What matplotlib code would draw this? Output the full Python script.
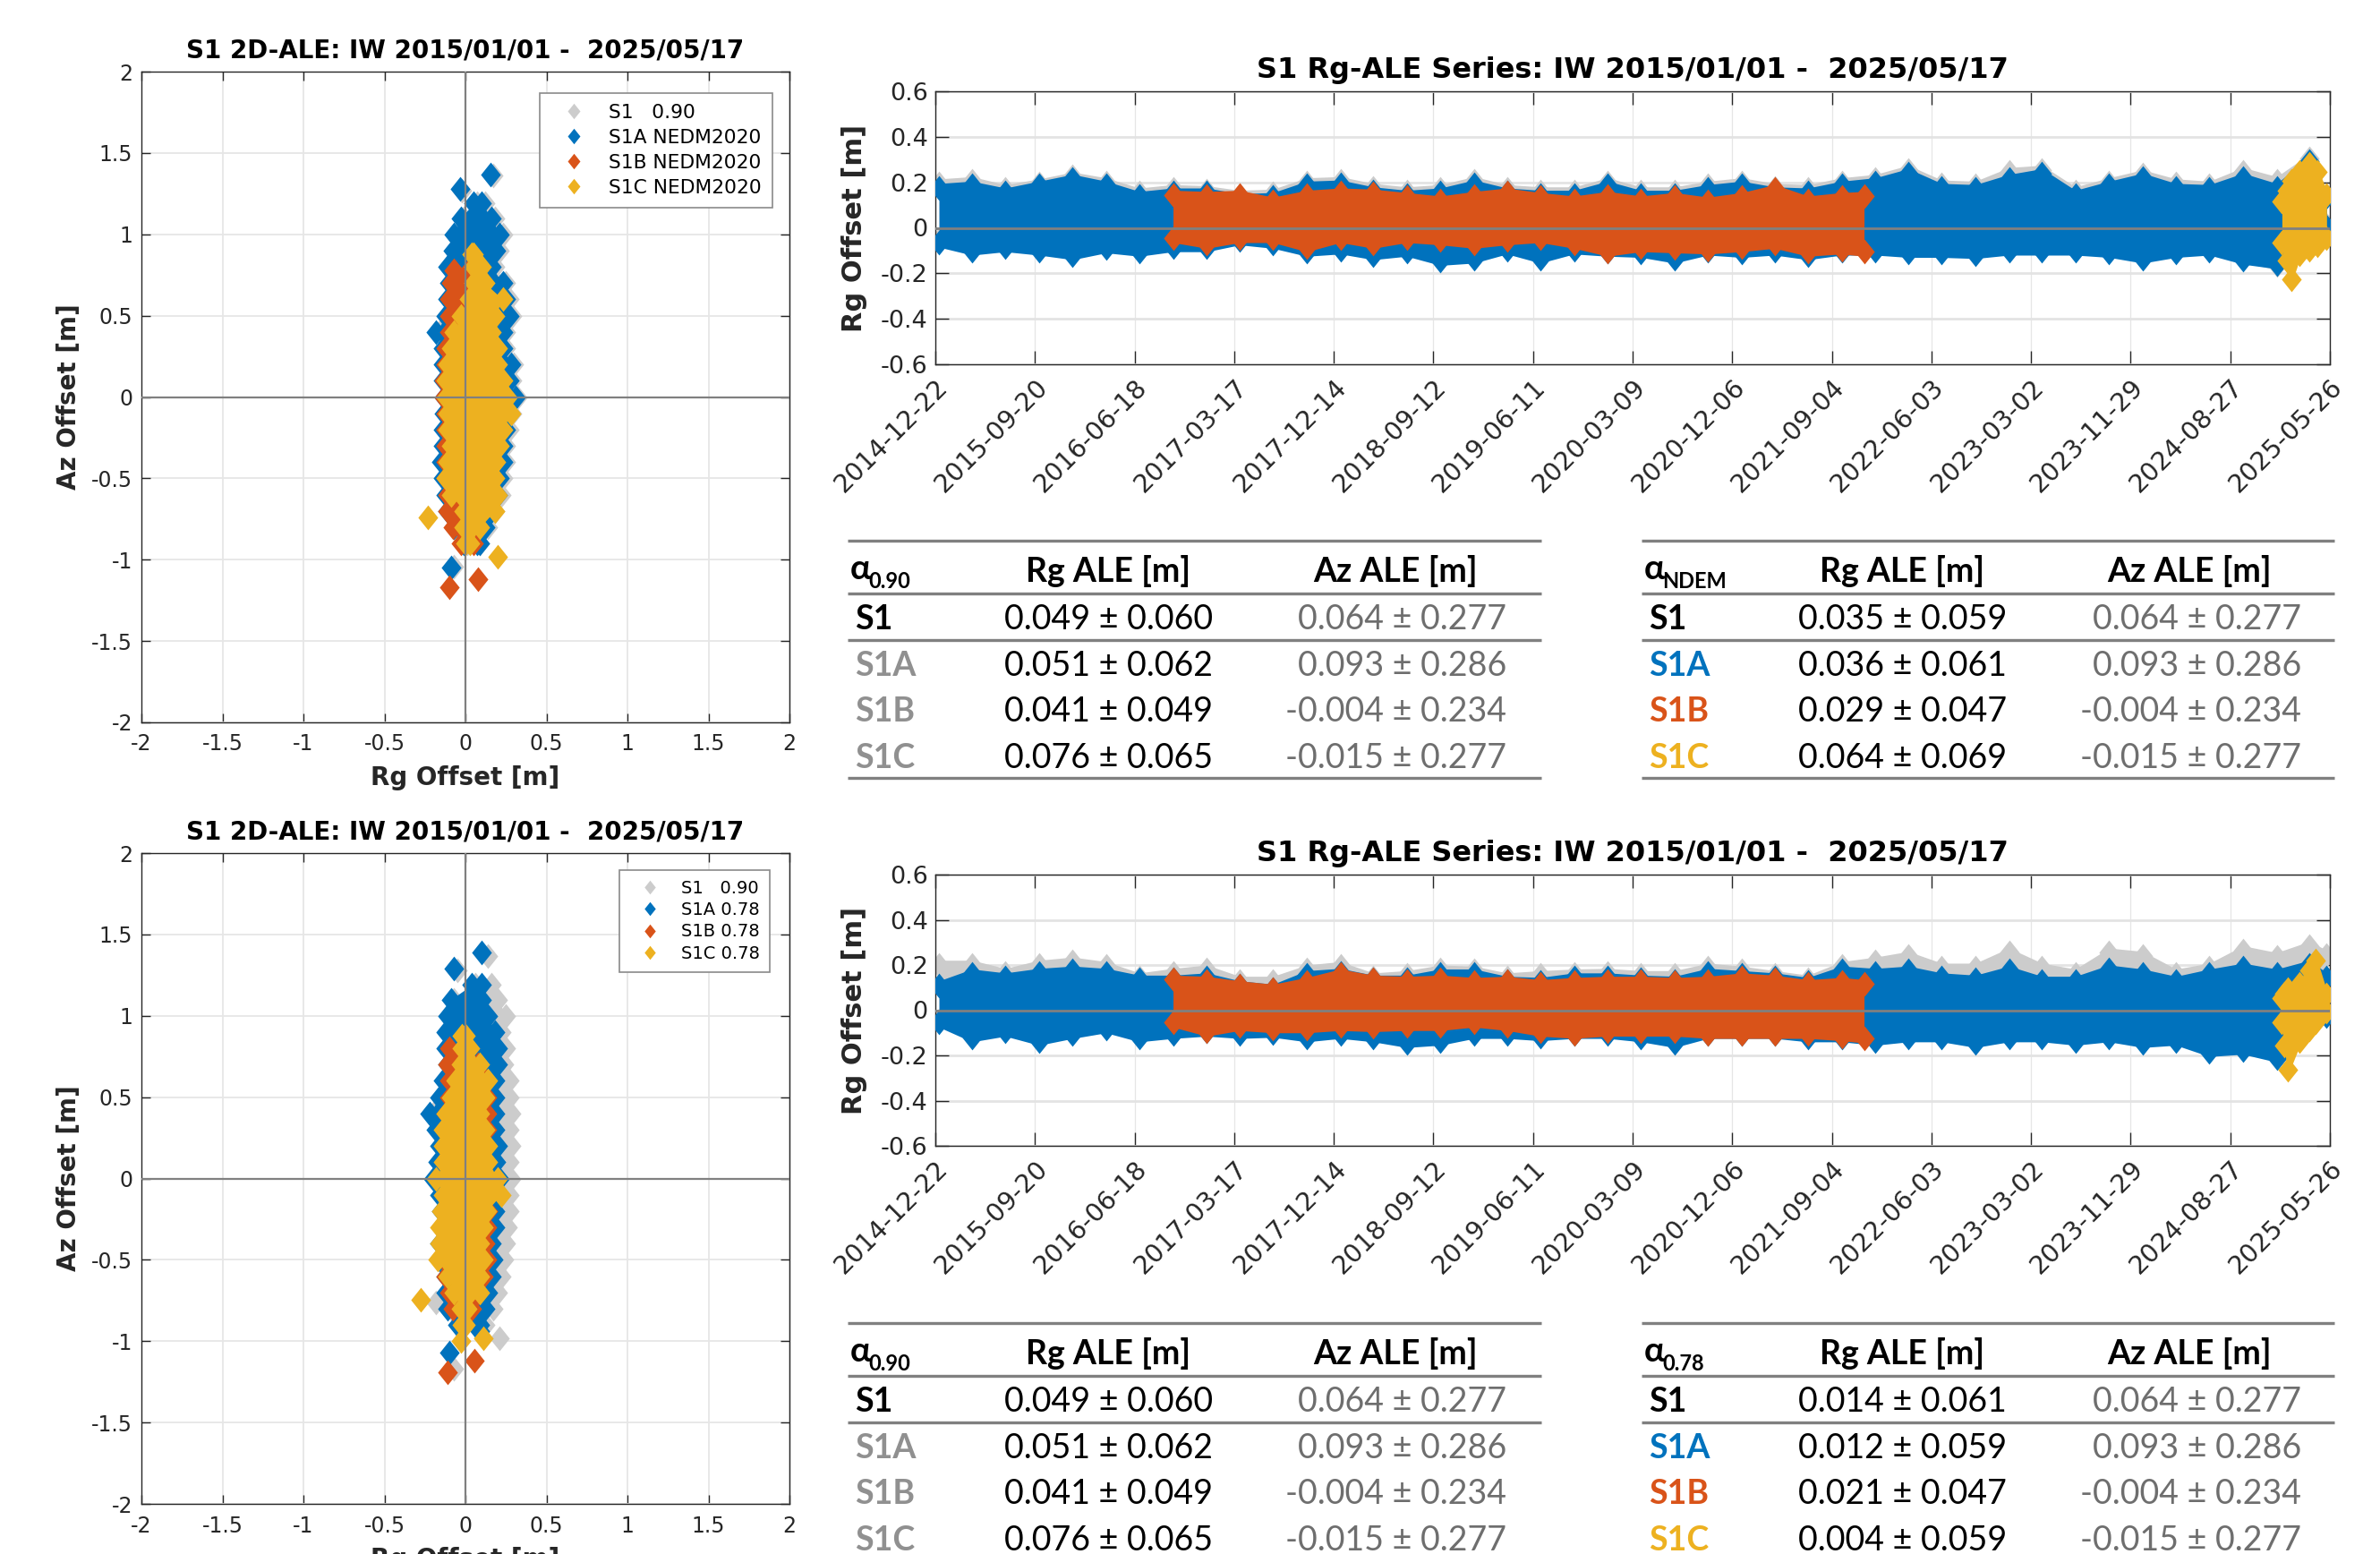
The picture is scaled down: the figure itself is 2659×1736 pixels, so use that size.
import numpy as np
import matplotlib
matplotlib.use("Agg")
import matplotlib.pyplot as plt
import matplotlib.dates as mdates
import matplotlib.transforms as mtransforms
from matplotlib.lines import Line2D

plt.rcParams['font.family'] = ['DejaVu Sans']

C_S1, C_A, C_B, C_C = '#cccccc', '#0072bd', '#d95319', '#edb120'
TXT = '#262626'

# ---------------- 2D-ALE scatter clouds (row y, left/right-most marker centres) -------------
ROWS_AB = [1.19, 1.1, 1.0, 0.9, 0.8, 0.7, 0.6, 0.5, 0.4, 0.3, 0.2, 0.1, 0.0,
           -0.1, -0.2, -0.3, -0.4, -0.5, -0.6, -0.7, -0.8, -0.9]
ROWS_B = [0.78, 0.7, 0.6, 0.5, 0.4, 0.3, 0.2, 0.1, 0.0, -0.1, -0.2, -0.3, -0.4,
          -0.5, -0.6, -0.7, -0.8, -0.9]
ROWS_B2 = [0.8, 0.7, 0.6, 0.5, 0.4, 0.3, 0.2, 0.1, 0.0, -0.1, -0.2, -0.3, -0.4,
           -0.5, -0.6, -0.7, -0.8]
ROWS_C = [0.88, 0.8, 0.7, 0.6, 0.5, 0.4, 0.3, 0.2, 0.1, 0.0, -0.1, -0.2, -0.3,
          -0.4, -0.5, -0.6, -0.7, -0.8, -0.9]

# top panel (NEDM2020)
t_gray_l = [0.07, -0.01, -0.05, -0.06, -0.09, -0.08, -0.09, -0.10, -0.16, -0.12, -0.12,
            -0.12, -0.11, -0.11, -0.12, -0.12, -0.13, -0.12, -0.10, -0.09, -0.05, 0.01]
t_gray_r = [0.12, 0.18, 0.23, 0.21, 0.18, 0.25, 0.27, 0.29, 0.25, 0.25, 0.30,
            0.29, 0.32, 0.29, 0.27, 0.25, 0.25, 0.23, 0.22, 0.18, 0.14, 0.09]
t_gray_ox = [0.17, -0.02, -0.07]
t_gray_oy = [1.36, 1.27, -1.04]
t_blue_l = [0.05, -0.03, -0.07, -0.08, -0.11, -0.10, -0.11, -0.12, -0.18, -0.14, -0.14,
            -0.14, -0.13, -0.13, -0.14, -0.14, -0.15, -0.14, -0.12, -0.11, -0.07, -0.01]
t_blue_r = [0.10, 0.16, 0.21, 0.19, 0.16, 0.23, 0.25, 0.27, 0.23, 0.23, 0.28,
            0.27, 0.31, 0.27, 0.25, 0.23, 0.23, 0.21, 0.20, 0.16, 0.12, 0.07]
t_blue_ox = [0.155, -0.035, -0.09, 0.09]
t_blue_oy = [1.37, 1.28, -1.05, -0.90]
t_or_l = [-0.07, -0.09, -0.10, -0.10, -0.10, -0.12, -0.12, -0.13, -0.13, -0.12, -0.12,
          -0.12, -0.12, -0.12, -0.11, -0.11, -0.08, -0.03]
t_or_r = [0.02, 0.10, 0.12, 0.12, 0.10, 0.12, 0.12, 0.15, 0.15, 0.15, 0.15, 0.14,
          0.14, 0.13, 0.12, 0.10, 0.05, 0.05]
t_or_ox = [-0.10, 0.08]
t_or_oy = [-1.17, -1.12]
t_ye_l = [0.04, 0.05, 0.05, 0.02, -0.03, -0.07, -0.09, -0.11, -0.12, -0.12, -0.11,
          -0.11, -0.09, -0.11, -0.12, -0.09, -0.01, -0.01, 0.00]
t_ye_r = [0.05, 0.10, 0.12, 0.23, 0.18, 0.16, 0.20, 0.20, 0.23, 0.26, 0.28, 0.23,
          0.21, 0.19, 0.18, 0.20, 0.18, 0.09, 0.03]
t_ye_ox = [-0.23, 0.20]
t_ye_oy = [-0.74, -0.98]

# bottom panel (0.78)
b_gray_l = [0.06, -0.07, -0.09, -0.10, -0.10, -0.10, -0.12, -0.15, -0.20, -0.16, -0.14,
            -0.15, -0.18, -0.14, -0.13, -0.12, -0.14, -0.14, -0.10, -0.10, -0.09, -0.03]
b_gray_r = [0.16, 0.20, 0.25, 0.22, 0.25, 0.24, 0.27, 0.27, 0.28, 0.27, 0.28,
            0.27, 0.28, 0.27, 0.27, 0.26, 0.25, 0.24, 0.22, 0.20, 0.17, 0.12]
b_gray_ox = [0.14, -0.05, 0.21, -0.18, -0.07]
b_gray_oy = [1.37, 1.28, -0.98, -0.76, -1.17]
b_blue_l = [0.04, -0.09, -0.11, -0.12, -0.12, -0.11, -0.14, -0.16, -0.22, -0.18, -0.16,
            -0.17, -0.20, -0.16, -0.15, -0.14, -0.16, -0.16, -0.12, -0.12, -0.11, -0.05]
b_blue_r = [0.10, 0.10, 0.14, 0.18, 0.20, 0.20, 0.18, 0.18, 0.18, 0.18, 0.20,
            0.19, 0.21, 0.18, 0.18, 0.18, 0.16, 0.17, 0.16, 0.14, 0.12, 0.09]
b_blue_ox = [0.10, -0.074, -0.10, 0.09]
b_blue_oy = [1.39, 1.29, -1.07, -0.94]
b_or_l = [-0.10, -0.11, -0.10, -0.10, -0.12, -0.12, -0.13, -0.13, -0.13, -0.13, -0.13,
          -0.13, -0.13, -0.13, -0.12, -0.10, -0.08]
b_or_r = [0.00, 0.08, 0.12, 0.13, 0.13, 0.13, 0.13, 0.13, 0.13, 0.12, 0.14, 0.13,
          0.12, 0.13, 0.11, 0.08, 0.04]
b_or_ox = [-0.11, 0.055]
b_or_oy = [-1.19, -1.12]
b_ye_l = [-0.02, -0.02, -0.03, -0.06, -0.09, -0.12, -0.14, -0.14, -0.14, -0.18, -0.14,
          -0.15, -0.16, -0.16, -0.17, -0.11, -0.07, -0.03, -0.02]
b_ye_r = [0.00, 0.03, 0.09, 0.14, 0.12, 0.09, 0.12, 0.14, 0.14, 0.20, 0.22, 0.13,
          0.11, 0.09, 0.11, 0.09, 0.09, 0.01, 0.00]
b_ye_ox = [-0.276, 0.11, -0.03]
b_ye_oy = [-0.746, -0.98, -1.00]

# ---------------- Rg-ALE series envelopes (outer extent of markers) ----------------------
Q_DATES = ['2015-01-01', '2015-04-01', '2015-07-01', '2015-10-01',
           '2016-01-01', '2016-04-01', '2016-07-01', '2016-10-01',
           '2017-01-01', '2017-04-01', '2017-07-01', '2017-10-01',
           '2018-01-01', '2018-04-01', '2018-07-01', '2018-10-01',
           '2019-01-01', '2019-04-01', '2019-07-01', '2019-10-01',
           '2020-01-01', '2020-04-01', '2020-07-01', '2020-10-01',
           '2021-01-01', '2021-04-01', '2021-07-01', '2021-10-01',
           '2022-01-01', '2022-04-01', '2022-07-01', '2022-10-01',
           '2023-01-01', '2023-04-01', '2023-07-01', '2023-10-01',
           '2024-01-01', '2024-04-01', '2024-07-01', '2024-10-01',
           '2025-01-01', '2025-04-01', '2025-05-17']
B_DATES = ['2016-10-01',
           '2017-01-01', '2017-04-01', '2017-07-01', '2017-10-01',
           '2018-01-01', '2018-04-01', '2018-07-01', '2018-10-01',
           '2019-01-01', '2019-04-01', '2019-07-01', '2019-10-01',
           '2020-01-01', '2020-04-01', '2020-07-01', '2020-10-01',
           '2021-01-01', '2021-04-01', '2021-07-01', '2021-10-01', '2021-12-01']
C_DATES_T = ['2025-01-15', '2025-01-28', '2025-02-10', '2025-03-05', '2025-04-01',
             '2025-04-22', '2025-05-17']
C_DATES_B = ['2025-01-15', '2025-01-22', '2025-02-01', '2025-03-05', '2025-04-01',
             '2025-04-18', '2025-05-17']

ts_t_gray_hi = [0.25, 0.26, 0.225, 0.25, 0.28, 0.255, 0.21, 0.225, 0.22, 0.20, 0.205, 0.255,
                0.26, 0.23, 0.215, 0.225, 0.26, 0.225, 0.215, 0.215, 0.255, 0.215, 0.215, 0.24,
                0.255, 0.23, 0.225, 0.255, 0.27, 0.31, 0.245, 0.24, 0.30, 0.31, 0.215, 0.255,
                0.29, 0.25, 0.24, 0.30, 0.26, 0.36, 0.20]
ts_t_gray_lo = [-0.11, -0.145, -0.13, -0.145, -0.165, -0.135, -0.15, -0.13, -0.13, -0.10,
                -0.115, -0.15, -0.14, -0.165, -0.15, -0.19, -0.18, -0.14, -0.18, -0.14,
                -0.15, -0.155, -0.18, -0.145, -0.155, -0.145, -0.165, -0.145, -0.145, -0.155,
                -0.155, -0.16, -0.145, -0.145, -0.145, -0.155, -0.18, -0.155, -0.145, -0.185,
                -0.22, -0.115, -0.04]
ts_t_blue_hi = [0.23, 0.24, 0.21, 0.24, 0.27, 0.24, 0.195, 0.21, 0.21, 0.185, 0.19, 0.24,
                0.245, 0.215, 0.20, 0.21, 0.245, 0.21, 0.20, 0.20, 0.24, 0.20, 0.20, 0.225,
                0.24, 0.215, 0.21, 0.24, 0.255, 0.295, 0.23, 0.225, 0.27, 0.295, 0.20, 0.24,
                0.275, 0.23, 0.225, 0.275, 0.23, 0.35, 0.19]
ts_t_blue_lo = [-0.12, -0.155, -0.14, -0.155, -0.175, -0.145, -0.16, -0.14, -0.14, -0.11,
                -0.125, -0.16, -0.15, -0.175, -0.16, -0.20, -0.19, -0.15, -0.19, -0.15,
                -0.16, -0.165, -0.19, -0.155, -0.165, -0.155, -0.175, -0.155, -0.155, -0.165,
                -0.165, -0.17, -0.155, -0.155, -0.155, -0.165, -0.19, -0.165, -0.155, -0.195,
                -0.215, -0.125, -0.05]
ts_t_or_hi = [0.20, 0.195, 0.20, 0.17, 0.20, 0.21, 0.205, 0.19, 0.175, 0.195, 0.21, 0.19,
              0.175, 0.195, 0.175, 0.19, 0.17, 0.19, 0.225, 0.175, 0.19, 0.195]
ts_t_or_lo = [-0.10, -0.125, -0.10, -0.10, -0.14, -0.10, -0.125, -0.10, -0.11, -0.125, -0.11,
              -0.10, -0.125, -0.16, -0.14, -0.145, -0.15, -0.14, -0.125, -0.16, -0.15, -0.16]
ts_t_ye_hi = [0.17, 0.22, 0.26, 0.30, 0.335, 0.30, 0.20]
ts_t_ye_lo = [-0.12, -0.20, -0.28, -0.17, -0.15, -0.13, -0.10]

ts_b_gray_hi = [0.256, 0.256, 0.22, 0.256, 0.27, 0.25, 0.20, 0.22, 0.235, 0.185, 0.185, 0.235,
                0.25, 0.20, 0.21, 0.235, 0.23, 0.20, 0.21, 0.217, 0.22, 0.21, 0.21, 0.243,
                0.23, 0.21, 0.19, 0.25, 0.27, 0.295, 0.243, 0.243, 0.31, 0.243, 0.217, 0.31,
                0.295, 0.217, 0.243, 0.32, 0.29, 0.34, 0.30]
ts_b_gray_lo = [-0.10, -0.165, -0.14, -0.18, -0.15, -0.125, -0.165, -0.15, -0.14, -0.15,
                -0.145, -0.165, -0.15, -0.165, -0.19, -0.18, -0.15, -0.15, -0.16, -0.15,
                -0.15, -0.165, -0.19, -0.15, -0.15, -0.15, -0.165, -0.165, -0.18, -0.165,
                -0.165, -0.19, -0.165, -0.165, -0.18, -0.165, -0.19, -0.18, -0.23, -0.22,
                -0.255, -0.09, -0.07]
ts_b_blue_hi = [0.165, 0.217, 0.20, 0.22, 0.23, 0.22, 0.19, 0.19, 0.20, 0.165, 0.15, 0.21,
                0.22, 0.19, 0.19, 0.217, 0.217, 0.185, 0.18, 0.20, 0.20, 0.19, 0.185, 0.22,
                0.21, 0.20, 0.18, 0.23, 0.22, 0.23, 0.20, 0.19, 0.23, 0.185, 0.185, 0.235,
                0.217, 0.185, 0.217, 0.243, 0.217, 0.256, 0.20]
ts_b_blue_lo = [-0.11, -0.175, -0.15, -0.19, -0.16, -0.135, -0.175, -0.16, -0.15, -0.16,
                -0.155, -0.175, -0.16, -0.175, -0.20, -0.19, -0.16, -0.16, -0.17, -0.16,
                -0.16, -0.175, -0.20, -0.16, -0.16, -0.16, -0.175, -0.175, -0.19, -0.175,
                -0.175, -0.20, -0.175, -0.175, -0.19, -0.175, -0.20, -0.19, -0.24, -0.23,
                -0.265, -0.10, -0.08]
ts_b_or_hi = [0.19, 0.185, 0.165, 0.15, 0.18, 0.217, 0.19, 0.185, 0.19, 0.18, 0.185, 0.17,
              0.18, 0.185, 0.185, 0.18, 0.185, 0.20, 0.19, 0.17, 0.18, 0.17]
ts_b_or_lo = [-0.11, -0.15, -0.125, -0.135, -0.135, -0.125, -0.13, -0.125, -0.125, -0.11,
              -0.125, -0.15, -0.16, -0.15, -0.15, -0.15, -0.16, -0.16, -0.16, -0.16, -0.17, -0.18]
ts_b_ye_hi = [0.11, 0.13, 0.15, 0.17, 0.23, 0.275, 0.125]
ts_b_ye_lo = [-0.11, -0.21, -0.32, -0.19, -0.14, -0.11, -0.06]

TS_TICKS = ['2014-12-22', '2015-09-20', '2016-06-18', '2017-03-17', '2017-12-14',
            '2018-09-12', '2019-06-11', '2020-03-09', '2020-12-06', '2021-09-04',
            '2022-06-03', '2023-03-02', '2023-11-29', '2024-08-27', '2025-05-26']

# ---------------- tables --------------------------------------------------------------------
SATS = ['S1', 'S1A', 'S1B', 'S1C']
az_m = [0.064, 0.093, -0.004, -0.015]
az_s = [0.277, 0.286, 0.234, 0.277]
rg090_m = [0.049, 0.051, 0.041, 0.076]
rg090_s = [0.060, 0.062, 0.049, 0.065]
rgndem_m = [0.035, 0.036, 0.029, 0.064]
rgndem_s = [0.059, 0.061, 0.047, 0.069]
rg078_m = [0.014, 0.012, 0.021, 0.004]
rg078_s = [0.061, 0.059, 0.047, 0.059]

TITLE_2D = 'S1 2D-ALE: IW 2015/01/01 -  2025/05/17'
TITLE_TS = 'S1 Rg-ALE Series: IW 2015/01/01 -  2025/05/17'
LEG_TOP = ['S1   0.90', 'S1A NEDM2020', 'S1B NEDM2020', 'S1C NEDM2020']
LEG_BOT = ['S1   0.90', 'S1A 0.78', 'S1B 0.78', 'S1C 0.78']

# ---------------- figure --------------------------------------------------------------------
W, H, DPI = 2659, 1736, 100
fig = plt.figure(figsize=(W / DPI, H / DPI), dpi=DPI)
fig.patch.set_facecolor('white')

DIAMOND = [(0, 1), (0.8, 0), (0, -1), (-0.8, 0), (0, 1)]
MS = 20
TS_HALF = 0.055   # marker half height (Rg units) in the series axes
TS_FILL = 0.035   # inset of the solid band from the outer envelope


def px_axes(l, t, r, b):
    return fig.add_axes([l / W, 1 - b / H, (r - l) / W, (b - t) / H])


def cloud(ax, rows, left, right, ox, oy, color, z):
    ax.fill_betweenx(rows, left, right, color=color, lw=0, zorder=z)
    for xs, ys in ((left, rows), (right, rows), (ox, oy)):
        ax.plot(xs, ys, ls='none', marker=DIAMOND, ms=MS, color=color, mec='none', zorder=z)


def setup_scatter(ax, leg_labels, leg_fs, anchor, lspace):
    ax.set_xlim(-2, 2)
    ax.set_ylim(-2, 2)
    ticks = [-2, -1.5, -1, -0.5, 0, 0.5, 1, 1.5, 2]
    lbls = ['-2', '-1.5', '-1', '-0.5', '0', '0.5', '1', '1.5', '2']
    ax.set_xticks(ticks)
    ax.set_xticklabels(lbls)
    ax.set_yticks(ticks)
    ax.set_yticklabels(lbls)
    ax.grid(True, color='#e6e6e6', lw=1.3)
    ax.set_axisbelow(True)
    ax.tick_params(direction='in', length=7, width=1, top=True, right=True,
                   labelsize=17, colors=TXT)
    ax.tick_params(axis='x', pad=9)
    ax.tick_params(axis='y', pad=7)
    for s in ax.spines.values():
        s.set_color(TXT)
        s.set_linewidth(1.0)
    ax.axhline(0, color='#808080', lw=1.6, zorder=10)
    ax.axvline(0, color='#808080', lw=1.6, zorder=10)
    ax.set_title(TITLE_2D, fontsize=20, fontweight='bold', pad=11)
    ax.set_xlabel('Rg Offset [m]', fontsize=20, fontweight='bold', color=TXT, labelpad=8)
    ax.set_ylabel('Az Offset [m]', fontsize=20, fontweight='bold', color=TXT, labelpad=8)
    handles = [Line2D([], [], ls='none', marker=DIAMOND, ms=leg_fs * 0.8, color=c, mec='none')
               for c in (C_S1, C_A, C_B, C_C)]
    leg = ax.legend(handles, leg_labels, loc='upper right', bbox_to_anchor=anchor,
                    fontsize=leg_fs, frameon=True, fancybox=False, edgecolor='#8a8a8a',
                    framealpha=1, borderaxespad=0, handlelength=2.4, handletextpad=0.6,
                    labelspacing=lspace, borderpad=0.55)
    leg.get_frame().set_linewidth(1.2)
    leg.set_zorder(20)


def dn(lst):
    return mdates.date2num(np.array(lst, dtype='datetime64[D]'))


def band(ax, dates, lo, hi, color, z):
    x = dn(dates)
    lo = np.array(lo)
    hi = np.array(hi)
    ax.fill_between(x, lo + TS_FILL, hi - TS_FILL, color=color, lw=0, zorder=z)
    for ys in (lo + TS_HALF, hi - TS_HALF):
        ax.plot(x, ys, ls='none', marker=DIAMOND, ms=MS, color=color, mec='none', zorder=z)


def setup_ts(ax):
    ax.set_xlim(dn(['2014-12-22'])[0], dn(['2025-05-26'])[0])
    ax.set_ylim(-0.6, 0.6)
    ax.set_yticks([-0.6, -0.4, -0.2, 0, 0.2, 0.4, 0.6])
    ax.set_yticklabels(['-0.6', '-0.4', '-0.2', '0', '0.2', '0.4', '0.6'])
    ax.set_xticks(dn(TS_TICKS))
    ax.set_xticklabels(TS_TICKS, rotation=45, ha='right', va='top', rotation_mode='anchor')
    off = mtransforms.ScaledTranslation(19 / DPI, -5 / DPI, fig.dpi_scale_trans)
    for lab in ax.get_xticklabels():
        lab.set_transform(lab.get_transform() + off)
    ax.grid(True, axis='x', color='#e6e6e6', lw=0.9)
    ax.grid(True, axis='y', color='#e3e3e3', lw=2.0)
    ax.set_axisbelow(True)
    ax.tick_params(direction='in', length=11, width=1, top=True, right=True, colors=TXT)
    ax.tick_params(axis='x', pad=8, labelsize=20.5)
    ax.tick_params(axis='y', pad=6, labelsize=19.5)
    for s in ax.spines.values():
        s.set_color(TXT)
        s.set_linewidth(1.0)
    ax.axhline(0, color='#808080', lw=2.0, zorder=10)
    ax.set_title(TITLE_TS, fontsize=23, fontweight='bold', pad=11)
    ax.set_ylabel('Rg Offset [m]', fontsize=22, fontweight='bold', color=TXT, labelpad=11)


# table overlay (pixel coordinates)
tax = fig.add_axes([0, 0, 1, 1], zorder=-5)
tax.set_xlim(0, W)
tax.set_ylim(H, 0)
tax.axis('off')
tax.patch.set_visible(False)

TFAM = ['Lato', 'DejaVu Sans']
GRAY_LAB = '#909090'
GRAY_VAL = '#6e6e6e'


def table(x0, x1, dy, rg_head, az_head, rg_right, az_right, sub, lab_cols, rg_m, rg_s):
    for y in (604, 663, 715, 869):
        tax.plot([x0, x1], [y + dy, y + dy], color='#808080', lw=2.4,
                 solid_capstyle='butt', clip_on=False)
    tax.text(x0 + 3, 647 + dy, 'α', fontsize=28, fontweight='bold', family=TFAM,
             va='baseline', ha='left', color='black')
    tax.text(x0 + 23, 657 + dy, sub, fontsize=17, fontweight='bold', family=TFAM,
             va='baseline', ha='left', color='black')
    tax.text(rg_head, 650 + dy, 'Rg ALE [m]', fontsize=27, fontweight='bold', family=TFAM,
             va='baseline', ha='center', color='black')
    tax.text(az_head, 650 + dy, 'Az ALE [m]', fontsize=27, fontweight='bold', family=TFAM,
             va='baseline', ha='center', color='black')
    for i, yb in enumerate((703, 755, 806, 858)):
        tax.text(x0 + 8, yb + dy, SATS[i], fontsize=27, fontweight='bold', family=TFAM,
                 va='baseline', ha='left', color=lab_cols[i])
        tax.text(rg_right, yb + dy, f'{rg_m[i]:.3f} ± {rg_s[i]:.3f}', fontsize=27,
                 family=TFAM, va='baseline', ha='right', color='black')
        tax.text(az_right, yb + dy, f'{az_m[i]:.3f} ± {az_s[i]:.3f}', fontsize=27,
                 family=TFAM, va='baseline', ha='right', color=GRAY_VAL)


left_cols = ['black', GRAY_LAB, GRAY_LAB, GRAY_LAB]
right_cols = ['black', C_A, C_B, C_C]
table(947, 1722, 0, 1238, 1559, 1355, 1683, '0.90', left_cols, rg090_m, rg090_s)
table(1834, 2608, 0, 2125, 2446, 2242, 2571, 'NDEM', right_cols, rgndem_m, rgndem_s)
table(947, 1722, 874, 1238, 1559, 1355, 1683, '0.90', left_cols, rg090_m, rg090_s)
table(1834, 2608, 874, 2125, 2446, 2242, 2571, '0.78', right_cols, rg078_m, rg078_s)

# scatter panels
ax1 = px_axes(158, 80, 882, 807)
cloud(ax1, ROWS_AB, t_gray_l, t_gray_r, t_gray_ox, t_gray_oy, C_S1, 2)
cloud(ax1, ROWS_AB, t_blue_l, t_blue_r, t_blue_ox, t_blue_oy, C_A, 3)
cloud(ax1, ROWS_B, t_or_l, t_or_r, t_or_ox, t_or_oy, C_B, 4)
cloud(ax1, ROWS_C, t_ye_l, t_ye_r, t_ye_ox, t_ye_oy, C_C, 5)
setup_scatter(ax1, LEG_TOP, 15.7, (0.974, 0.967), 0.36)

ax3 = px_axes(158, 953, 882, 1680)
cloud(ax3, ROWS_AB, b_gray_l, b_gray_r, b_gray_ox, b_gray_oy, C_S1, 2)
cloud(ax3, ROWS_AB, b_blue_l, b_blue_r, b_blue_ox, b_blue_oy, C_A, 3)
cloud(ax3, ROWS_B2, b_or_l, b_or_r, b_or_ox, b_or_oy, C_B, 4)
cloud(ax3, ROWS_C, b_ye_l, b_ye_r, b_ye_ox, b_ye_oy, C_C, 5)
setup_scatter(ax3, LEG_BOT, 14, (0.9696, 0.974), 0.28)

# series panels
ax2 = px_axes(1045, 102, 2603, 407)
band(ax2, Q_DATES, ts_t_gray_lo, ts_t_gray_hi, C_S1, 2)
band(ax2, Q_DATES, ts_t_blue_lo, ts_t_blue_hi, C_A, 3)
band(ax2, B_DATES, ts_t_or_lo, ts_t_or_hi, C_B, 4)
band(ax2, C_DATES_T, ts_t_ye_lo, ts_t_ye_hi, C_C, 5)
setup_ts(ax2)

ax4 = px_axes(1045, 977, 2603, 1280)
band(ax4, Q_DATES, ts_b_gray_lo, ts_b_gray_hi, C_S1, 2)
band(ax4, Q_DATES, ts_b_blue_lo, ts_b_blue_hi, C_A, 3)
band(ax4, B_DATES, ts_b_or_lo, ts_b_or_hi, C_B, 4)
band(ax4, C_DATES_B, ts_b_ye_lo, ts_b_ye_hi, C_C, 5)
setup_ts(ax4)

fig.savefig('out.png', dpi=DPI, facecolor='white')
